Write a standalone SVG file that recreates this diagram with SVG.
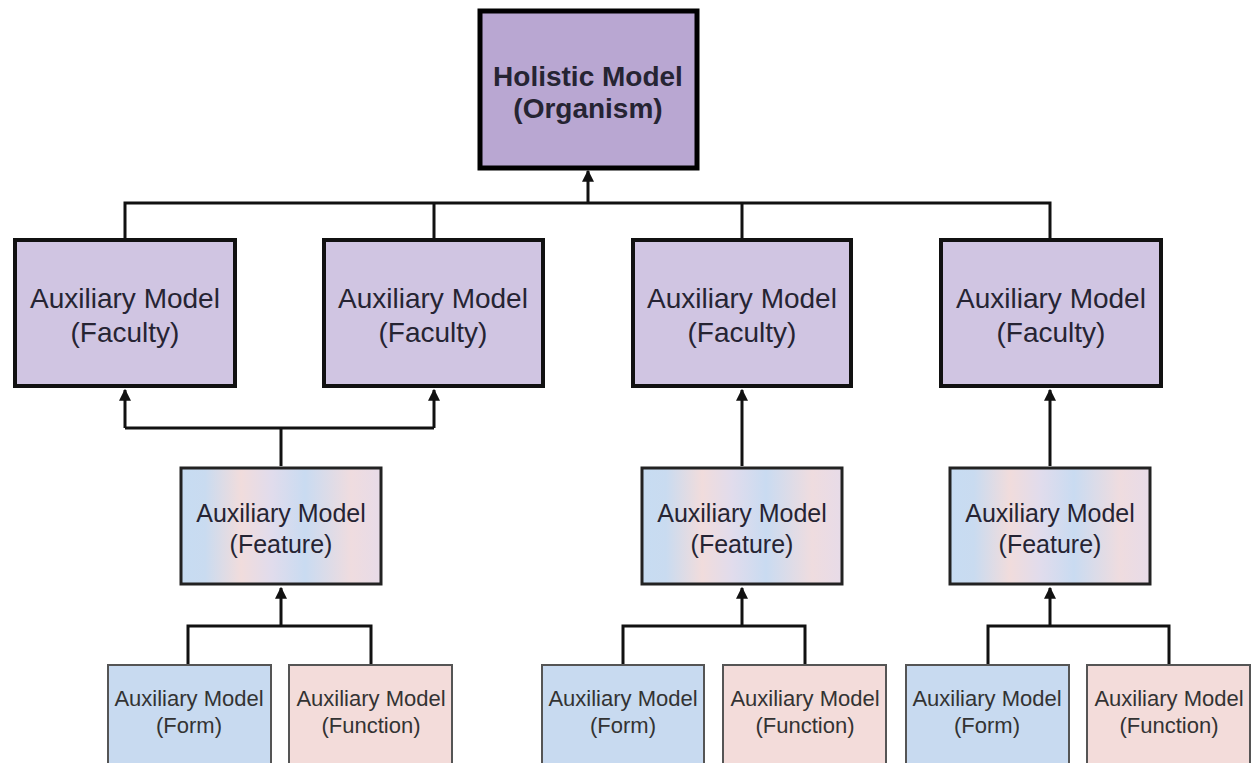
<svg xmlns="http://www.w3.org/2000/svg" width="1253" height="763" viewBox="0 0 1253 763">
<style>
text{font-family:"Liberation Sans",Arial,sans-serif;text-anchor:middle;fill:#262433}
.hol{fill:#b9a7d2;stroke:#000;stroke-width:5}
.fac{fill:#d0c5e2;stroke:#111;stroke-width:4}
.fea{fill:url(#feaGrad);stroke:#222;stroke-width:3}
.form{fill:#c8daf0;stroke:#555;stroke-width:2}
.func{fill:#f3dcda;stroke:#555;stroke-width:2}
.t-hol{font-size:28px;font-weight:bold}
.t-fac{font-size:28px}
.t-fea{font-size:25px}
.t-sm{font-size:22px;fill:#333}
.conn{fill:none;stroke:#111;stroke-width:3}
</style>
<defs>
<linearGradient id="feaGrad" x1="0" y1="0" x2="1" y2="0">
<stop offset="0" stop-color="#c7dcf2"/>
<stop offset="0.12" stop-color="#c9dbf0"/>
<stop offset="0.3" stop-color="#f1dcdc"/>
<stop offset="0.45" stop-color="#e1dcec"/>
<stop offset="0.62" stop-color="#c9dbf1"/>
<stop offset="0.85" stop-color="#efdcdf"/>
<stop offset="1" stop-color="#e7dbe8"/>
</linearGradient>
<marker id="arr" viewBox="0 0 10 10" refX="9" refY="5" markerWidth="4" markerHeight="4" orient="auto" markerUnits="strokeWidth">
<path d="M0,0 L10,5 L0,10 z" fill="#111"/>
</marker>
</defs>
<rect width="1253" height="763" fill="#fff"/>
<g id="connectors">
<polyline class="conn" points="125,238 125,203 1050,203 1050,238"/>
<line class="conn" x1="434" y1="203" x2="434" y2="238"/>
<line class="conn" x1="742" y1="203" x2="742" y2="238"/>
<line class="conn" x1="588" y1="203" x2="588" y2="171" marker-end="url(#arr)"/>
<line class="conn" x1="281" y1="466" x2="281" y2="428"/>
<polyline class="conn" points="125,428 434,428"/>
<line class="conn" x1="125" y1="428" x2="125" y2="390" marker-end="url(#arr)"/>
<line class="conn" x1="434" y1="428" x2="434" y2="390" marker-end="url(#arr)"/>
<line class="conn" x1="742" y1="466" x2="742" y2="390" marker-end="url(#arr)"/>
<line class="conn" x1="1050" y1="466" x2="1050" y2="390" marker-end="url(#arr)"/>
<polyline class="conn" points="188,664 188,626 371,626 371,664"/>
<line class="conn" x1="281" y1="626" x2="281" y2="588" marker-end="url(#arr)"/>
<polyline class="conn" points="623,664 623,626 805,626 805,664"/>
<line class="conn" x1="742" y1="626" x2="742" y2="588" marker-end="url(#arr)"/>
<polyline class="conn" points="988,664 988,626 1169,626 1169,664"/>
<line class="conn" x1="1050" y1="626" x2="1050" y2="588" marker-end="url(#arr)"/>
</g>
<g id="holistic">
<rect class="hol" x="480" y="11" width="217" height="157"/>
<text class="t-hol" x="588" y="86">Holistic Model</text>
<text class="t-hol" x="588" y="118">(Organism)</text>
</g>
<g id="faculty1">
<rect class="fac" x="15" y="240" width="220" height="146"/>
<text class="t-fac" x="125" y="308">Auxiliary Model</text>
<text class="t-fac" x="125" y="342">(Faculty)</text>
</g>
<g id="faculty2">
<rect class="fac" x="324" y="240" width="219" height="146"/>
<text class="t-fac" x="433" y="308">Auxiliary Model</text>
<text class="t-fac" x="433" y="342">(Faculty)</text>
</g>
<g id="faculty3">
<rect class="fac" x="633" y="240" width="218" height="146"/>
<text class="t-fac" x="742" y="308">Auxiliary Model</text>
<text class="t-fac" x="742" y="342">(Faculty)</text>
</g>
<g id="faculty4">
<rect class="fac" x="941" y="240" width="220" height="146"/>
<text class="t-fac" x="1051" y="308">Auxiliary Model</text>
<text class="t-fac" x="1051" y="342">(Faculty)</text>
</g>
<g id="feature1">
<rect class="fea" x="181" y="468" width="200" height="116"/>
<text class="t-fea" x="281" y="522">Auxiliary Model</text>
<text class="t-fea" x="281" y="553">(Feature)</text>
</g>
<g id="feature2">
<rect class="fea" x="642" y="468" width="200" height="116"/>
<text class="t-fea" x="742" y="522">Auxiliary Model</text>
<text class="t-fea" x="742" y="553">(Feature)</text>
</g>
<g id="feature3">
<rect class="fea" x="950" y="468" width="200" height="116"/>
<text class="t-fea" x="1050" y="522">Auxiliary Model</text>
<text class="t-fea" x="1050" y="553">(Feature)</text>
</g>
<g id="form1">
<rect class="form" x="108" y="665" width="163" height="110"/>
<text class="t-sm" x="189" y="706">Auxiliary Model</text>
<text class="t-sm" x="189" y="733">(Form)</text>
</g>
<g id="function1">
<rect class="func" x="289" y="665" width="163" height="110"/>
<text class="t-sm" x="371" y="706">Auxiliary Model</text>
<text class="t-sm" x="371" y="733">(Function)</text>
</g>
<g id="form2">
<rect class="form" x="542" y="665" width="162" height="110"/>
<text class="t-sm" x="623" y="706">Auxiliary Model</text>
<text class="t-sm" x="623" y="733">(Form)</text>
</g>
<g id="function2">
<rect class="func" x="723" y="665" width="163" height="110"/>
<text class="t-sm" x="805" y="706">Auxiliary Model</text>
<text class="t-sm" x="805" y="733">(Function)</text>
</g>
<g id="form3">
<rect class="form" x="906" y="665" width="163" height="110"/>
<text class="t-sm" x="987" y="706">Auxiliary Model</text>
<text class="t-sm" x="987" y="733">(Form)</text>
</g>
<g id="function3">
<rect class="func" x="1087" y="665" width="163" height="110"/>
<text class="t-sm" x="1169" y="706">Auxiliary Model</text>
<text class="t-sm" x="1169" y="733">(Function)</text>
</g>
</svg>
